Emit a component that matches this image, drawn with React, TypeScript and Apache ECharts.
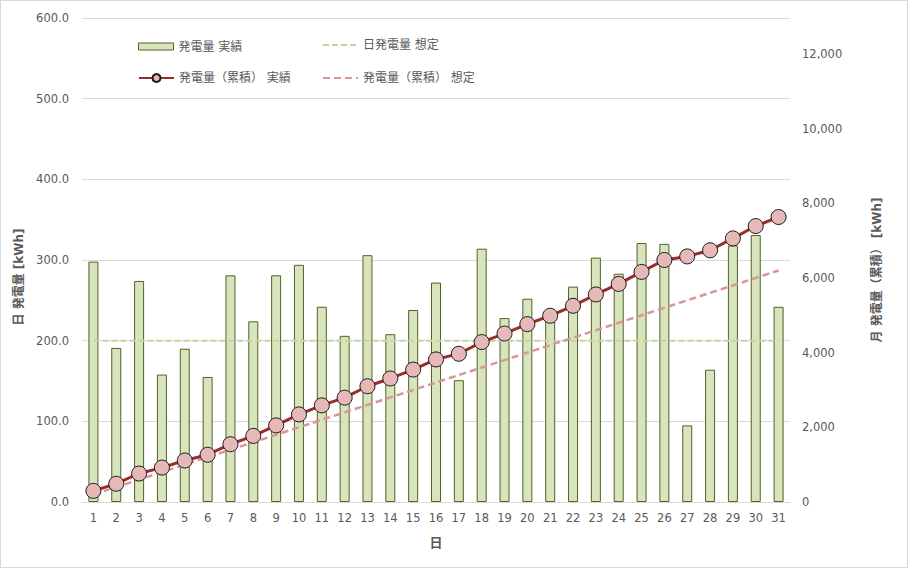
import React, { useEffect, useRef } from "react";
import * as echarts from "echarts";

const days = ["1","2","3","4","5","6","7","8","9","10","11","12","13","14","15","16","17","18","19","20","21","22","23","24","25","26","27","28","29","30","31"];
const dailyActual = [298,191,274,158,190,155,281,224,281,294,242,206,306,208,238,272,151,314,228,252,224,267,303,283,321,320,95,164,318,331,242];
const dailyPlan = [200,200,200,200,200,200,200,200,200,200,200,200,200,200,200,200,200,200,200,200,200,200,200,200,200,200,200,200,200,200,200];
const cumActual = [298,489,763,921,1111,1266,1547,1771,2052,2346,2588,2794,3100,3308,3546,3818,3969,4283,4511,4763,4987,5254,5557,5840,6161,6481,6576,6740,7058,7389,7631];
const cumPlan = [200,400,600,800,1000,1200,1400,1600,1800,2000,2200,2400,2600,2800,3000,3200,3400,3600,3800,4000,4200,4400,4600,4800,5000,5200,5400,5600,5800,6000,6200];

const NAME_BAR = "発電量 実績";
const NAME_DPLAN = "日発電量 想定";
const NAME_CUM = "発電量（累積） 実績";
const NAME_CPLAN = "発電量（累積） 想定";

const FONT = "'DejaVu Sans', 'Noto Sans CJK JP', sans-serif";
const LABEL = "#595959";

export default function App() {
  const ref = useRef<HTMLDivElement>(null);
  useEffect(() => {
    document.body.style.margin = "0";
    const chart = echarts.init(ref.current!, null, { renderer: "svg" });
    const legendBase = {
      orient: "horizontal",
      padding: 0,
      itemWidth: 35,
      itemHeight: 10,
      itemGap: 4,
      textStyle: { color: LABEL, fontSize: 12, fontFamily: FONT },
    };
    chart.setOption({
      animation: false,
      backgroundColor: "#ffffff",
      textStyle: { fontFamily: FONT },
      grid: { left: 81, right: 117, top: 17, bottom: 65 },
      legend: [
        {
          ...legendBase,
          data: [{ name: NAME_BAR, icon: "rect", itemStyle: { borderWidth: 1 } }],
          left: 137,
          top: 39.5,
          itemHeight: 7,
        },
        { ...legendBase, data: [{ name: NAME_DPLAN, itemStyle: { opacity: 0 } }], left: 321, top: 38 },
        { ...legendBase, data: [NAME_CUM], left: 137, top: 71 },
        { ...legendBase, data: [{ name: NAME_CPLAN, itemStyle: { opacity: 0 } }], left: 321, top: 71 },
      ],
      xAxis: {
        type: "category",
        data: days,
        name: "日",
        nameLocation: "middle",
        nameGap: 34,
        nameTextStyle: { color: LABEL, fontSize: 13, fontWeight: "bold", fontFamily: FONT },
        axisLine: { lineStyle: { color: "#d9d9d9", width: 1 } },
        axisTick: { show: false },
        axisLabel: { color: LABEL, fontSize: 11.5, fontFamily: FONT, margin: 10, interval: 0 },
      },
      yAxis: [
        {
          type: "value",
          min: 0,
          max: 600,
          interval: 100,
          name: "日 発電量 [kWh]",
          nameLocation: "middle",
          nameRotate: 90,
          nameGap: 52,
          nameTextStyle: {
            color: LABEL,
            fontSize: 12,
            fontWeight: "bold",
            fontFamily: FONT,
            padding: [0, 34, 0, 0],
          },
          axisLine: { show: false },
          axisTick: { show: false },
          axisLabel: { color: LABEL, fontSize: 11.5, fontFamily: FONT, margin: 13, formatter: (v: number) => v.toFixed(1) },
          splitLine: { lineStyle: { color: "#d9d9d9", width: 1 } },
        },
        {
          type: "value",
          min: 0,
          max: 12960,
          interval: 2000,
          position: "right",
          name: "月 発電量（累積） [kWh]",
          nameLocation: "middle",
          nameRotate: 90,
          nameGap: 81,
          nameTextStyle: {
            color: LABEL,
            fontSize: 12,
            fontWeight: "bold",
            fontFamily: FONT,
            padding: [0, 20, 0, 0],
          },
          axisLine: { show: false },
          axisTick: { show: false },
          axisLabel: {
            color: LABEL,
            fontSize: 11.5,
            fontFamily: FONT,
            margin: 12,
            showMaxLabel: false,
            formatter: (v: number) => v.toLocaleString("en-US"),
          },
          splitLine: { show: false },
        },
      ],
      series: [
        {
          name: NAME_BAR,
          type: "bar",
          yAxisIndex: 0,
          data: dailyActual,
          barWidth: 10,
          itemStyle: { color: "#d8e4bc", borderColor: "#4f6228", borderWidth: 1 },
          z: 1,
        },
        {
          name: NAME_DPLAN,
          type: "line",
          yAxisIndex: 0,
          data: dailyPlan,
          symbol: "none",
          lineStyle: { color: "#c3d69b", width: 2, type: [6, 3] },
          itemStyle: { color: "#c3d69b" },
          z: 2,
        },
        {
          name: NAME_CPLAN,
          type: "line",
          yAxisIndex: 1,
          data: cumPlan,
          symbol: "none",
          lineStyle: { color: "#d99694", width: 2.5, type: [7, 4] },
          itemStyle: { color: "#d99694" },
          z: 3,
        },
        {
          name: NAME_CUM,
          type: "line",
          yAxisIndex: 1,
          data: cumActual,
          symbol: "circle",
          symbolSize: 15,
          lineStyle: { color: "#9b2d2b", width: 3 },
          itemStyle: { color: "#e6b9b8", borderColor: "#1a1a1a", borderWidth: 1 },
          z: 4,
        },
      ],
    });
    return () => chart.dispose();
  }, []);
  return (
    <div
      style={{
        position: "absolute",
        left: 0,
        top: 0,
        width: 908,
        height: 568,
        boxSizing: "border-box",
        border: "1px solid #d9d9d9",
        background: "#fff",
      }}
    >
      <div ref={ref} style={{ width: 906, height: 566 }} />
    </div>
  );
}
